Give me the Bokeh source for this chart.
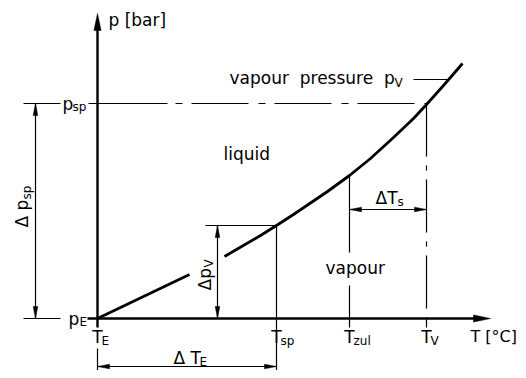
import math
import numpy as np
from bokeh.plotting import figure
from bokeh.models import Range1d
from bokeh.core.properties import value
from bokeh.embed import file_html
from bokeh.resources import INLINE

# ---- data (temperature offset from T_E, pressure offset from p_E; drawing units) ----
curve_T = [0, 92, 127, 163, 179, 196, 230, 252, 273, 296, 316, 329, 346, 365]
curve_p = [0, 44, 62, 83, 93, 104, 127, 143, 160, 181, 200, 214, 233, 255]
curve_break_after = 1          # curve interrupted after this point (room for the Δp_V label)
T_E, T_sp, T_zul, T_V = 0, 179, 252, 329
p_E, p_sp = 0, 215
T_max, p_max = 393, 305        # axis arrow tips
T_min, p_min = -10, -9
p_leader = 239                 # vapour pressure leader height

FONT = value("DejaVu Sans")

p = figure(width=518, height=370, x_range=Range1d(-97, 421), y_range=Range1d(-52, 318),
           output_backend="svg", toolbar_location=None, x_axis_type=None, y_axis_type=None,
           min_border=0)
p.outline_line_color = None
p.background_fill_color = "white"

p_at = lambda t: float(np.interp(t, curve_T, curve_p))
p_tsp, p_tzul = p_at(T_sp), p_at(T_zul)
T_lead = float(np.interp(p_leader, curve_p, curve_T))

# ---- curve ----
cx = curve_T[:curve_break_after + 1] + [float("nan")] + curve_T[curve_break_after + 1:]
cy = curve_p[:curve_break_after + 1] + [float("nan")] + curve_p[curve_break_after + 1:]
p.line(cx, cy, line_color="black", line_width=2.8, line_join="round")

# ---- axes ----
p.line([T_min, T_max - 14], [p_E, p_E], line_color="black", line_width=2.4)
p.line([T_E, T_E], [p_min, p_max - 14], line_color="black", line_width=2.4)

heads_x, heads_y = [], []
def head(x, y, dx, dy, L=12, w=2.3):
    bx, by = x - dx * L, y - dy * L
    nx, ny = -dy, dx
    heads_x.append([x, bx + nx * w, bx - nx * w])
    heads_y.append([y, by + ny * w, by - ny * w])

head(T_max, p_E, 1, 0, L=17, w=3.6)
head(T_E, p_max, 0, 1, L=17, w=3.6)

thin = dict(line_color="black", line_width=1.2)

# ---- p_sp and p_E reference lines ----
p.line([-74, -37], [p_sp, p_sp], **thin)
p.line([-74, -37], [p_E, p_E], **thin)
p.line([-9, 70], [p_sp, p_sp], **thin)
p.line([78, T_V], [p_sp, p_sp], line_dash="7 9 57 10", **thin)

# Δp_sp dimension
p.line([-62, -62], [p_E, p_sp], **thin)
head(-62, p_sp, 0, 1)
head(-62, p_E, 0, -1)

# T_E extension + ΔT_E dimension
p.line([T_E, T_E], [-30, -60], **thin)
p.line([T_sp, T_sp], [p_tsp, -60], **thin)
p.line([T_E, T_sp], [-48, -48], **thin)
head(T_E, -48, -1, 0)
head(T_sp, -48, 1, 0)

# Δp_V dimension
p.line([108, T_sp], [p_tsp, p_tsp], **thin)
p.line([120, 120], [p_E, p_tsp], **thin)
head(120, p_tsp, 0, 1)
head(120, p_E, 0, -1)

# T_zul line (interrupted by "vapour")
p.line([T_zul, T_zul, float("nan"), T_zul, T_zul], [p_tzul, 66, float("nan"), 33, p_min], **thin)

# T_V dash-dot line
p.line([T_V, T_V], [p_sp, p_E], line_dash="53 9 5 9", **thin)
p.line([T_V, T_V], [p_E, p_min], **thin)

# ΔT_s dimension
p.line([T_zul, T_V], [109, 109], **thin)
head(T_zul, 109, -1, 0)
head(T_V, 109, 1, 0)

# leader for vapour pressure label
p.line([316, T_lead], [p_leader, p_leader], **thin)

p.patches(heads_x, heads_y, fill_color="black", line_color="black", line_width=0.5)

# ---- texts ----
def txt(x, y, s, size=17, align="left", baseline="middle", angle=0.0):
    p.text([x], [y], text=[s], text_font=FONT, text_font_size=f"{size}px", text_color="black",
           text_align=align, text_baseline=baseline, angle=angle)

NB = "\u00a0"
txt(11, 299, "p" + NB + "[bar]")
txt(-35, p_sp, "p")
txt(-25, p_sp - 3, "sp", size=12)
txt(-29, p_E, "p")
txt(-18, p_E - 3, "E", size=12)
txt(126, 165, "liquid")
txt(228, 51, "vapour")
txt(132, 241, "vapour" + NB + " pressure" + NB + " p")
txt(297, 236, "V", size=12)

for t, sub in zip([T_E, T_sp, T_zul, T_V], ["E", "sp", "zul", "V"]):
    txt(t, -18, "T", align="center")
    txt(t + 4, -22, sub, size=12)

txt(373, -18, "T" + NB + "[°C]", size=16)
txt(76, -39, "Δ" + NB + "T")
txt(102, -43, "E", size=12)
txt(278, 121, "ΔT")
txt(300, 117, "s", size=12)

txt(-76, 91, "Δ" + NB + "p", angle=math.pi / 2)
txt(-71, 119, "sp", size=12, angle=math.pi / 2)
txt(107, 28, "Δp", angle=math.pi / 2)
txt(111, 51, "V", size=12, angle=math.pi / 2)

open("out.html", "w").write(file_html(p, INLINE))
